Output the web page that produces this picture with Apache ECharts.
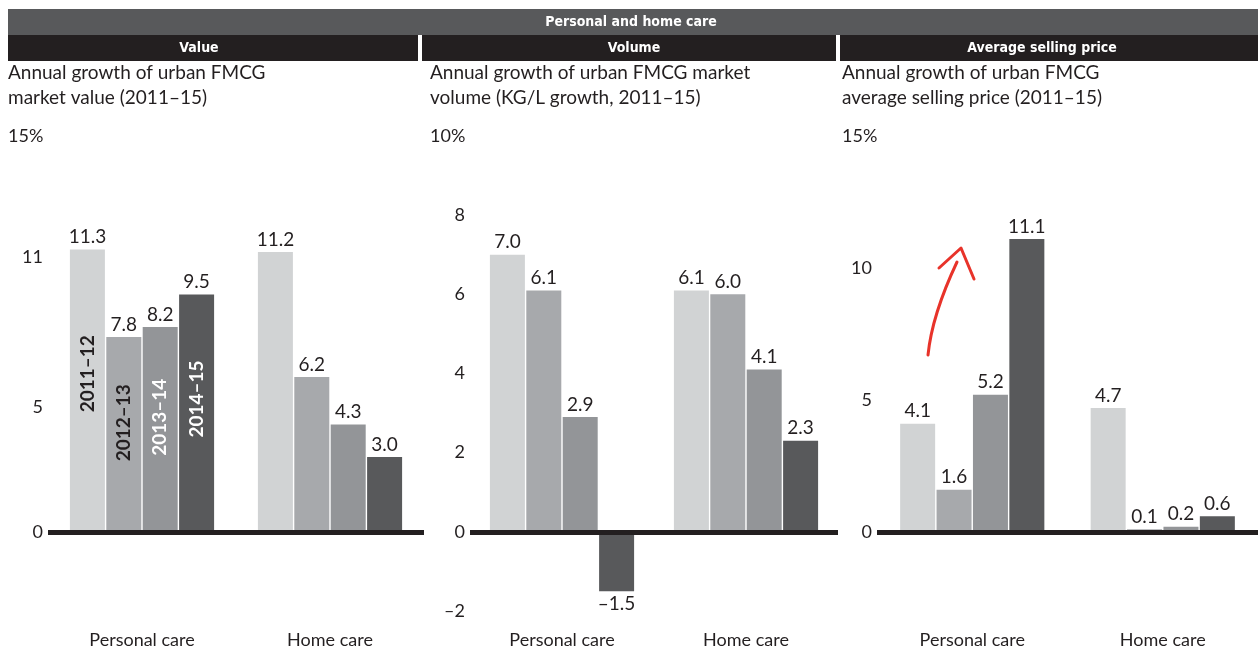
<!DOCTYPE html>
<html>
<head>
<meta charset="utf-8">
<title>Personal and home care</title>
<script src="https://cdn.jsdelivr.net/npm/echarts@6/dist/echarts.min.js"></script>
<style>
  html, body { margin: 0; padding: 0; background: #fff; }
  #chart { width: 1258px; height: 653px; }
</style>
</head>
<body>
<div id="chart"></div>
<script>
  // 数据
  const categories = ['Personal care', 'Home care']
  const periods = ['2011–12', '2012–13', '2013–14', '2014–15']
  const colors = ['#d1d3d4', '#a7a9ac', '#939598', '#58595b']
  const yearTextColors = ['#231f20', '#231f20', '#ffffff', '#ffffff']

  // Value
  const valuePersonal = [11.3, 7.8, 8.2, 9.5]
  const valueHome = [11.2, 6.2, 4.3, 3.0]
  const valueTicks = [0, 5, 11]
  // Volume
  const volumePersonal = [7.0, 6.1, 2.9, -1.5]
  const volumeHome = [6.1, 6.0, 4.1, 2.3]
  const volumeTicks = [-2, 0, 2, 4, 6, 8]
  // Average selling price
  const pricePersonal = [4.1, 1.6, 5.2, 11.1]
  const priceHome = [4.7, 0.1, 0.2, 0.6]
  const priceTicks = [0, 5, 10]

  const font = 'Lato, "Noto Sans", sans-serif'
  const headFont = '"Liberation Sans Narrow", "DejaVu Sans Condensed", sans-serif'

  const panels = [
    {
      title: 'Value', titleX: 199, headX: 8, headW: 410, textX: 8,
      sub: 'Annual growth of urban FMCG\nmarket value (2011–15)', unit: '15%',
      personal: valuePersonal, home: valueHome, ticks: valueTicks,
      min: 0, max: 15, interval: 1,
      grid: { left: 48, top: 157, width: 376, height: 375 }, catMargin: 99, yearLabels: true
    },
    {
      title: 'Volume', titleX: 634, headX: 422, headW: 414, textX: 430,
      sub: 'Annual growth of urban FMCG market\nvolume (KG/L growth, 2011–15)', unit: '10%',
      personal: volumePersonal, home: volumeHome, ticks: volumeTicks,
      min: -2, max: 10, interval: 2,
      grid: { left: 470, top: 136, width: 368, height: 475 }, catMargin: 20
    },
    {
      title: 'Average selling price', titleX: 1042, headX: 840, headW: 418, textX: 842,
      sub: 'Annual growth of urban FMCG\naverage selling price (2011–15)', unit: '15%',
      personal: pricePersonal, home: priceHome, ticks: priceTicks,
      min: 0, max: 15, interval: 5,
      grid: { left: 877, top: 136, width: 382, height: 396 }, catMargin: 99
    }
  ]

  const fmt = (v) => (v < 0 ? '–' : '') + Math.abs(v).toFixed(1)

  const grids = []
  const xAxes = []
  const yAxes = []
  const series = []
  const graphics = [
    { type: 'rect', shape: { x: 8, y: 9, width: 1250, height: 26 }, style: { fill: '#58595b' } },
    {
      type: 'text', x: 631, y: 22,
      style: { text: 'Personal and home care', fill: '#fff', font: 'bold 14px ' + headFont, textAlign: 'center', textVerticalAlign: 'middle' }
    }
  ]

  panels.forEach((p, pi) => {
    grids.push(p.grid)
    xAxes.push({
      type: 'category',
      gridIndex: pi,
      data: categories,
      axisLine: { show: false, onZero: false },
      axisTick: { show: false },
      axisLabel: { margin: p.catMargin, fontFamily: font, fontSize: 18, color: '#231f20' }
    })
    yAxes.push({
      type: 'value',
      gridIndex: pi,
      min: p.min,
      max: p.max,
      interval: p.interval,
      splitLine: { show: false },
      axisLine: { show: false },
      axisTick: { show: false },
      axisLabel: {
        margin: 5,
        fontFamily: font,
        fontSize: 18,
        color: '#231f20',
        formatter: (v) => (p.ticks.indexOf(v) > -1 ? (v < 0 ? '–' + Math.abs(v) : String(v)) : '')
      }
    })

    periods.forEach((name, i) => {
      const s = {
        type: 'bar',
        name: name,
        xAxisIndex: pi,
        yAxisIndex: pi,
        barWidth: 35,
        barGap: '4%',
        itemStyle: { color: colors[i] },
        data: [p.personal[i], p.home[i]].map((v) => ({
          value: v,
          label: { position: v < 0 ? 'bottom' : 'top' }
        })),
        label: {
          show: true,
          distance: 3,
          fontFamily: font,
          fontSize: 19,
          color: '#231f20',
          formatter: (d) => fmt(d.value)
        }
      }
      // 零线
      if (i === 3) {
        s.markLine = {
          silent: true,
          symbol: 'none',
          label: { show: false },
          lineStyle: { color: '#231f20', width: 5, type: 'solid' },
          data: [{ yAxis: 0 }]
        }
      }
      // 柱内年份
      if (p.yearLabels) {
        s.markPoint = {
          silent: true,
          symbol: 'circle',
          symbolSize: 1,
          itemStyle: { color: 'rgba(0,0,0,0)' },
          label: {
            show: true,
            position: 'inside',
            rotate: 90,
            formatter: '{b}',
            fontFamily: font,
            fontWeight: 'bold',
            fontSize: 19,
            color: yearTextColors[i]
          },
          data: [{ name: name, coord: [categories[0], p.personal[i] * 0.56] }]
        }
      }
      series.push(s)
    })

    graphics.push(
      { type: 'rect', shape: { x: p.headX, y: 35, width: p.headW, height: 26 }, style: { fill: '#231f20' } },
      {
        type: 'text', x: p.titleX, y: 48,
        style: { text: p.title, fill: '#fff', font: 'bold 14px ' + headFont, textAlign: 'center', textVerticalAlign: 'middle' }
      },
      {
        type: 'text', x: p.textX, y: 60,
        style: { text: p.sub, fill: '#231f20', font: '19px ' + font, lineHeight: 25 }
      },
      {
        type: 'text', x: p.textX, y: 136,
        style: { text: p.unit, fill: '#231f20', font: '18px ' + font, textVerticalAlign: 'middle' }
      }
    )
  })

  // 红色手绘箭头
  graphics.push(
    {
      type: 'bezierCurve',
      shape: { x1: 928, y1: 355, x2: 957, y2: 262, cpx1: 932, cpy1: 315 },
      style: { stroke: '#e8332a', lineWidth: 3, fill: null, lineCap: 'round' }
    },
    {
      type: 'polyline',
      shape: { points: [[939, 268], [961, 248], [974, 279]] },
      style: { stroke: '#e8332a', lineWidth: 3, fill: null, lineCap: 'round', lineJoin: 'round' }
    }
  )

  const myChart = echarts.init(document.getElementById('chart'))
  myChart.setOption({
    animation: false,
    textStyle: { fontFamily: font },
    grid: grids,
    xAxis: xAxes,
    yAxis: yAxes,
    series: series,
    graphic: graphics
  })
</script>
</body>
</html>
